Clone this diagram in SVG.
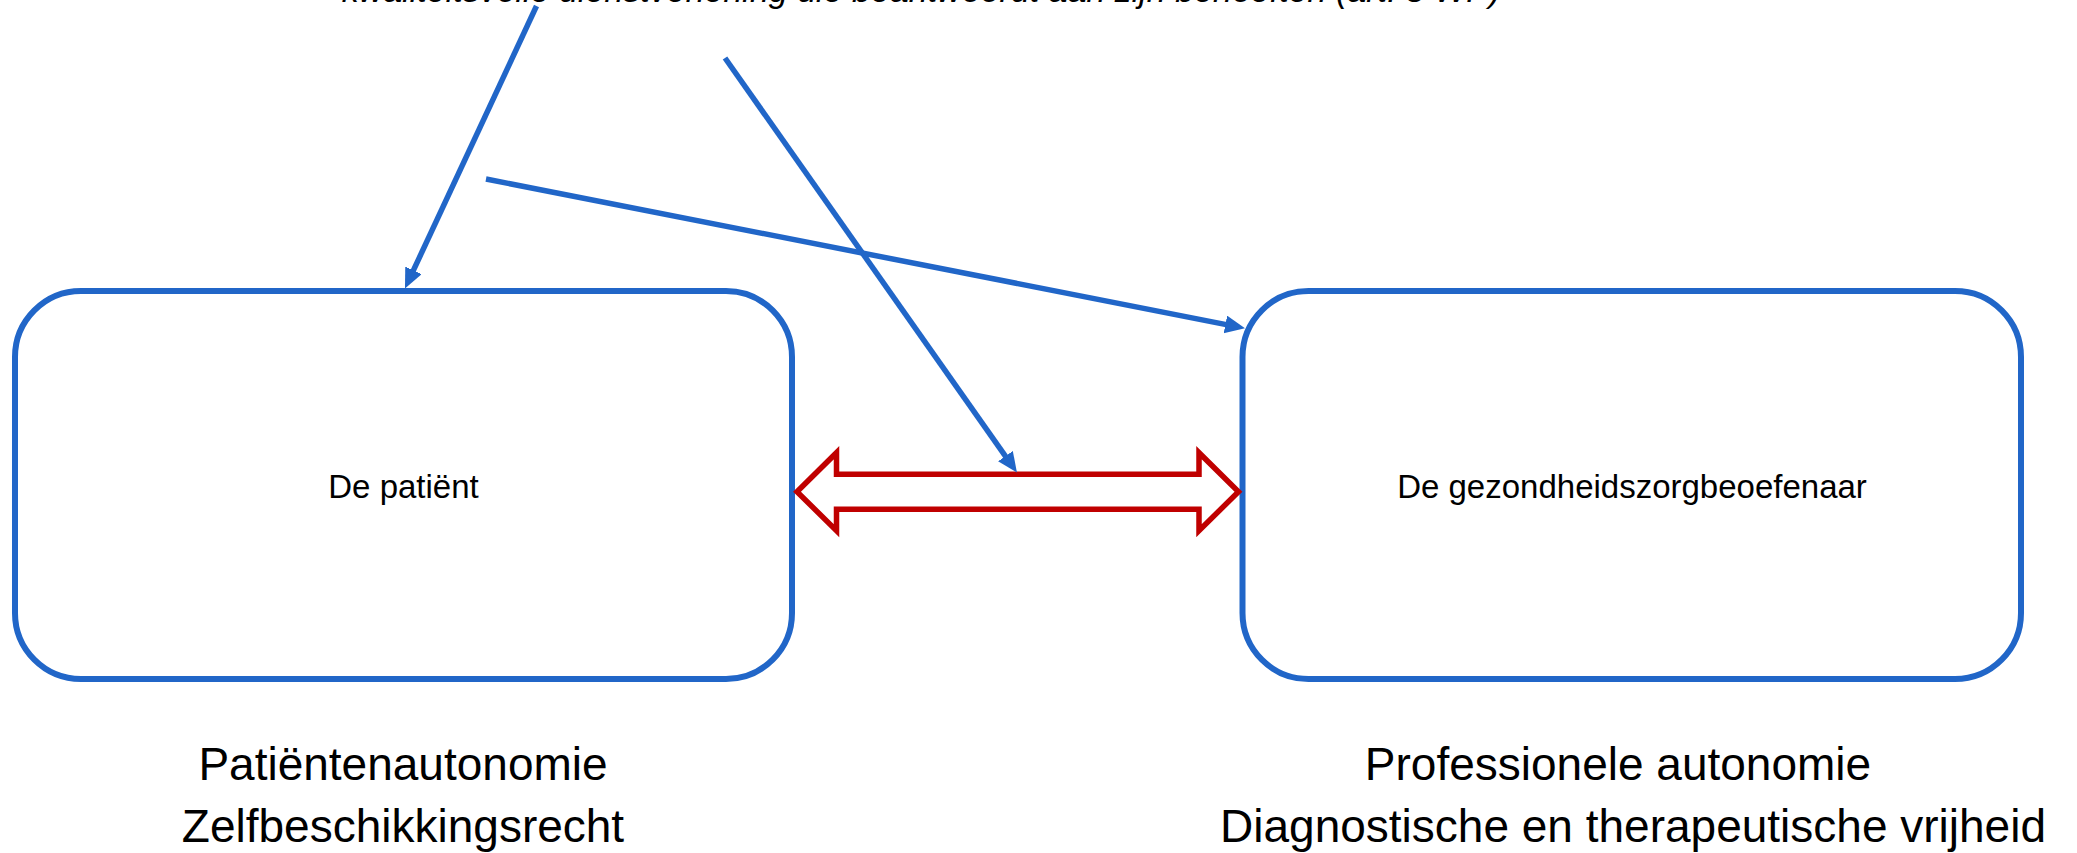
<svg xmlns="http://www.w3.org/2000/svg" width="2077" height="853" viewBox="0 0 2077 853">
<style>
.box{fill:#fff;stroke:#2166C8;stroke-width:6}
.lbl{font-family:"Liberation Sans",Arial,sans-serif;font-size:33px;fill:#000;text-anchor:middle}
.big{font-family:"Liberation Sans",Arial,sans-serif;font-size:46px;fill:#000;text-anchor:middle}
.top{font-family:"Liberation Sans",Arial,sans-serif;font-size:34px;font-style:italic;fill:#000;text-anchor:middle}
.conn{stroke:#2166C8;stroke-width:5.5;fill:none;marker-end:url(#ah)}
.dbl{fill:#fff;stroke:#C00000;stroke-width:5.5;stroke-linejoin:miter}
</style>
<defs>
<marker id="ah" markerUnits="userSpaceOnUse" markerWidth="22" markerHeight="20" refX="10" refY="9" orient="auto">
<path d="M0,0 L20,9 L0,18 z" fill="#2166C8"/>
</marker>
</defs>
<rect width="2077" height="853" fill="#fff"/>
<text class="top" x="921" y="1.5">kwaliteitsvolle dienstverlening die beantwoordt aan zijn behoeften (art. 5 WP)</text>
<g id="patient">
<rect class="box" x="15" y="291" width="777" height="388" rx="66" ry="66"/>
<text class="lbl" x="403.5" y="498">De patiënt</text>
</g>
<g id="beoefenaar">
<rect class="box" x="1242.5" y="291" width="778.5" height="388" rx="66" ry="66"/>
<text class="lbl" x="1632" y="498">De gezondheidszorgbeoefenaar</text>
</g>
<g id="relatie">
<path class="dbl" d="M797,491.7 L836.5,452.7 L836.5,474.2 L1199,474.2 L1199,452.7 L1238.5,491.7 L1199,530.7 L1199,509.2 L836.5,509.2 L836.5,530.7 Z"/>
</g>
<g id="connectors">
<line class="conn" x1="536.5" y1="6" x2="409.2" y2="279.4"/>
<line class="conn" x1="725" y1="58" x2="1011.2" y2="464.3"/>
<line class="conn" x1="486" y1="179" x2="1235.2" y2="326.4"/>
</g>
<g id="links-onder">
<text class="big" x="403" y="780">Patiëntenautonomie</text>
<text class="big" x="403" y="842">Zelfbeschikkingsrecht</text>
</g>
<g id="rechts-onder">
<text class="big" x="1618" y="780">Professionele autonomie</text>
<text class="big" x="1633" y="842">Diagnostische en therapeutische vrijheid</text>
</g>
</svg>
